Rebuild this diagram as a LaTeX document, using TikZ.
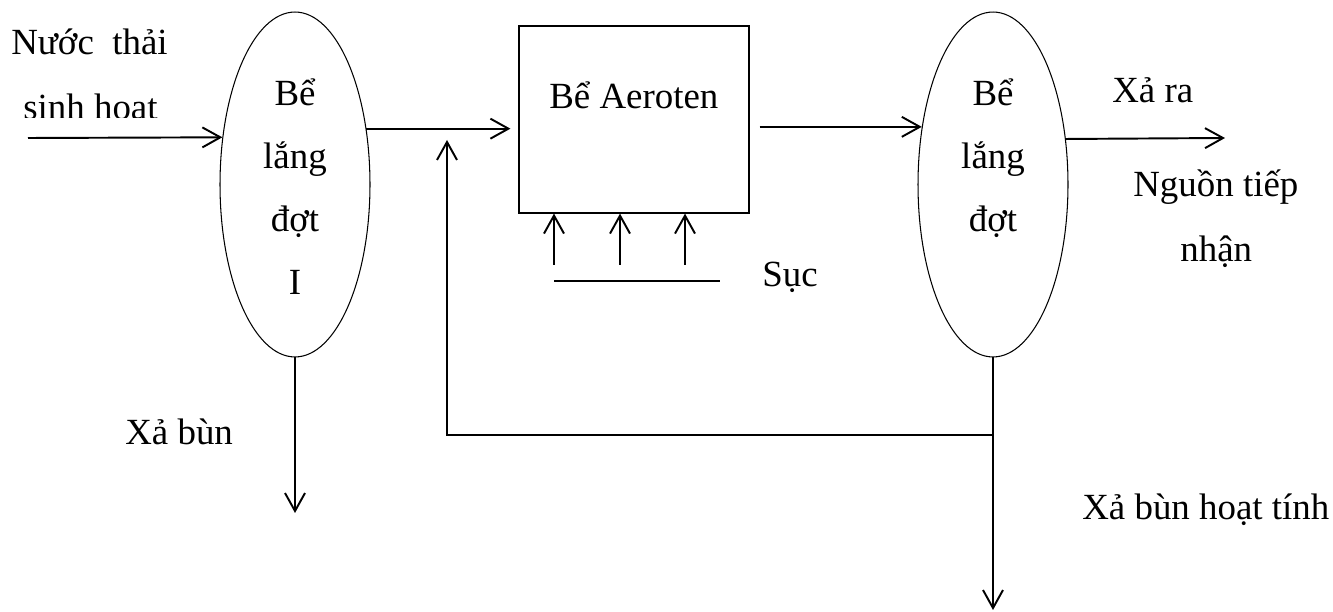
\documentclass[tikz,border=0pt]{standalone}
\usepackage{fontspec}
\setmainfont{Liberation Serif}
\usetikzlibrary{shapes.geometric,arrows.meta}

\begin{document}
\begin{tikzpicture}[
    x=0.02cm, y=0.02cm,
    every node/.style={font=\fontsize{21}{25}\selectfont, inner sep=0pt},
    settler/.style={draw, ellipse, line width=0.6pt, minimum width=3cm, minimum height=6.9cm},
    tank/.style={draw, rectangle, line width=0.7pt, minimum width=4.6cm, minimum height=3.74cm},
    word/.style={anchor=base},
    txt/.style={anchor=base west},
    pipe/.style={line width=1.1pt},
    flow/.style={pipe, -{Straight Barb[length=0.36cm,width=0.4cm]}}
]
\useasboundingbox (0,0) rectangle (1333,612);

\node[settler] (lang1) at (295,427.5) {};
\node[tank] (aero) at (634,492.5) {};
\node[settler] (lang2) at (993,427.5) {};

\node[word] (l1a) at (295,506) {Bể};
\node[word] (l1b) at (295,443) {lắng};
\node[word] (l1c) at (295,380) {đợt};
\begin{scope}
    \clip (250,315) rectangle (340,360);
    \node[word] (l1d) at (295,317) {I};
\end{scope}
\node[word] (l2a) at (993,506) {Bể};
\node[word] (l2b) at (993,443) {lắng};
\node[word] (l2c) at (993,380) {đợt};
\node[txt] (aerotxt) at (549,503) {Bể Aeroten};

\node[txt] (src1) at (11,557) {Nước\ \ thải};
\begin{scope}
    \clip (0,494) rectangle (220,540);
    \node[txt] (src2) at (23,492) {sinh hoạt};
\end{scope}
\node[txt] (outa) at (1112,509) {Xả ra};
\node[txt] (outb) at (1133,415) {Nguồn tiếp};
\node[txt] (outc) at (1180,350) {nhận};
\node[txt] (air) at (762,325) {Sục};
\node[txt] (sl1) at (125,167) {Xả bùn};
\node[txt] (sl2) at (1082,92) {Xả bùn hoạt tính};

% main line
\coordinate (in) at (28,474);
\coordinate (a2) at ([xshift=0.2cm]aero.east);
\coordinate (out) at (1225,474);
\draw[flow] (in) -- (lang1.147.2);
\draw[flow, shorten >=0.16cm] (lang1.38.5) -- (lang1.38.5 -| aero.west);
\draw[flow] (a2 |- lang2.141.5) -- (lang2.141.5);
\draw[flow] (lang2.32.8) -- (out);

% aeration
\coordinate (air1) at (554,331);
\coordinate (air2) at (720,331);
\draw[pipe] (air1) -- (air2);
\foreach \x in {554,620,685}
    \draw[flow] (\x,347) -- (\x,347 |- aero.south);

% return sludge and waste
\coordinate (split) at (lang2.south |- 0,177);
\coordinate (back) at (447,177);
\coordinate (waste) at (993,2);
\coordinate (sludge) at (295,99);
\draw[flow] (split) -- (back) -- (back |- 0,472);
\draw[flow] (lang2.south) -- (waste);
\draw[flow] (lang1.south) -- (sludge);
\end{tikzpicture}
\end{document}
